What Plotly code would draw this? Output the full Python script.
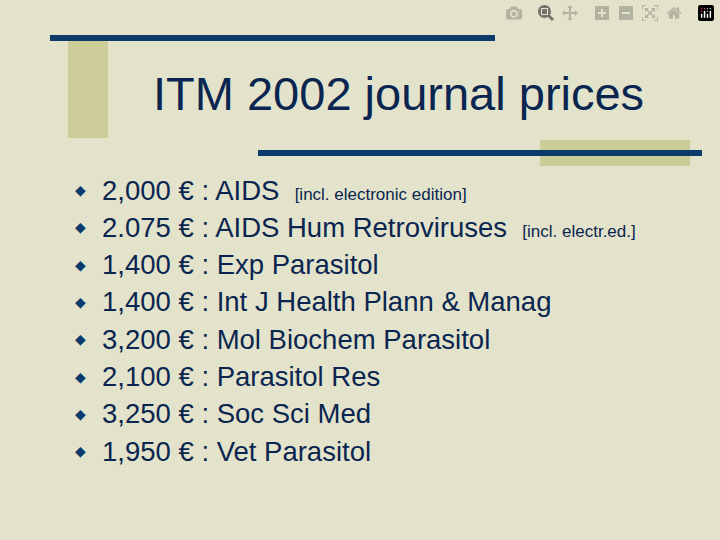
import plotly.graph_objects as go

title = "ITM 2002 journal prices"
prices = ["2,000", "2.075", "1,400", "1,400", "3,200", "2,100", "3,250", "1,950"]
journals = ["AIDS", "AIDS Hum Retroviruses", "Exp Parasitol", "Int J Health Plann & Manag",
            "Mol Biochem Parasitol", "Parasitol Res", "Soc Sci Med", "Vet Parasitol"]
notes = ["[incl. electronic edition]", "[incl. electr.ed.]", "", "", "", "", "", ""]

bg = "#E3E3CB"
navy = "#0B3A6B"
olive = "#CCCC99"
ink = "#0A2550"

fig = go.Figure()
# slide decoration
fig.add_shape(type="rect", x0=68, x1=108, y0=38, y1=138, fillcolor=olive, line_width=0, layer="below")
fig.add_shape(type="line", x0=50, x1=495, y0=38, y1=38, line=dict(color=navy, width=6))
fig.add_shape(type="rect", x0=540, x1=690, y0=140, y1=166, fillcolor=olive, line_width=0, layer="below")
fig.add_shape(type="line", x0=258, x1=702, y0=153, y1=153, line=dict(color=navy, width=6))

fig.add_annotation(x=398, y=93, text=title, showarrow=False, xanchor="center", yanchor="middle",
                   font=dict(size=47, color=ink, family="Liberation Sans"))

for i, (p, j, n) in enumerate(zip(prices, journals, notes)):
    y = 190 + i * 37.3
    txt = f"{p} € : {j}"
    if n:
        txt += f"  <span style='font-size:17px'>{n}</span>"
    fig.add_annotation(x=80, y=y, text="◆", showarrow=False, xanchor="center", yanchor="middle",
                       font=dict(size=14, color=navy, family="DejaVu Sans"))
    fig.add_annotation(x=100, y=y, text=txt, showarrow=False, xanchor="left", yanchor="middle",
                       font=dict(size=27.5, color=ink, family="Liberation Sans"))

fig.update_xaxes(range=[0, 720], visible=False)
fig.update_yaxes(range=[540, 0], visible=False)
fig.update_layout(width=720, height=540, margin=dict(l=0, r=0, t=0, b=0),
                  paper_bgcolor=bg, plot_bgcolor=bg, showlegend=False)
fig.write_html("out.html", post_script="document.body.style.margin='0';")
